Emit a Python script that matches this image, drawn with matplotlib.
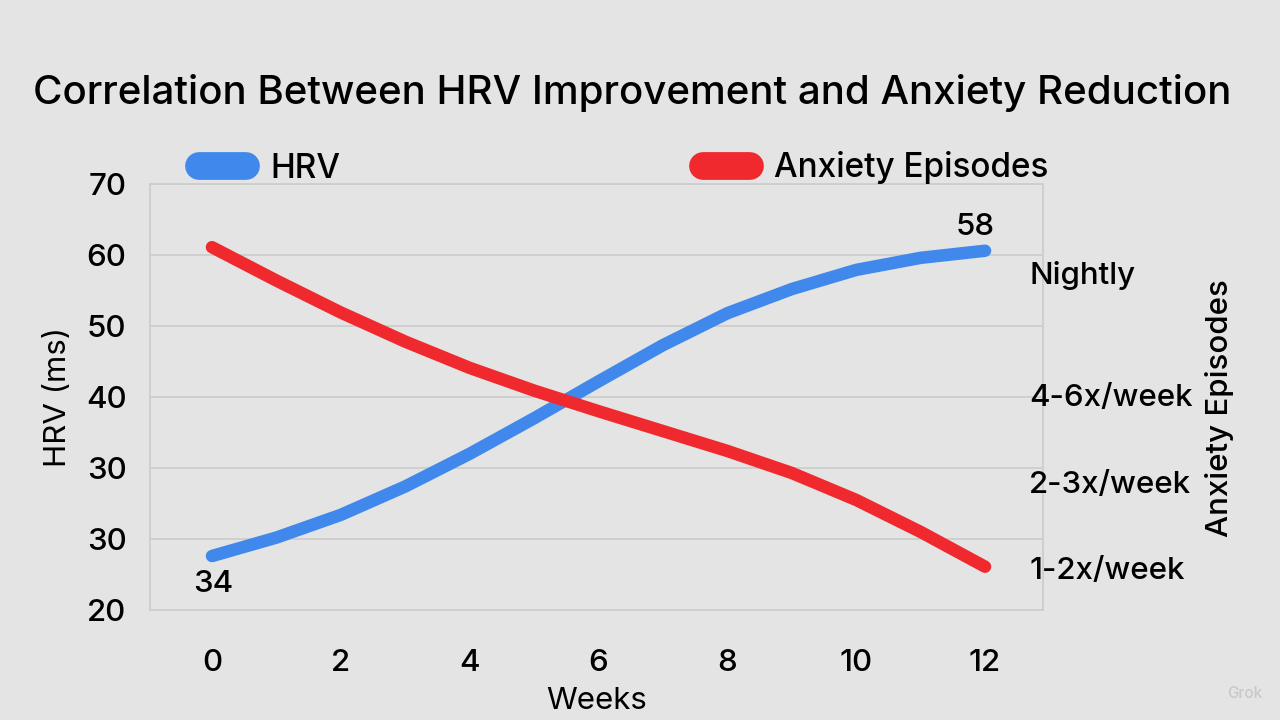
import numpy as np
import matplotlib
matplotlib.use("Agg")
import matplotlib.pyplot as plt
from matplotlib.lines import Line2D

plt.rcParams['font.family'] = ['Inter', 'DejaVu Sans']
plt.rcParams['font.weight'] = 'medium'

# Data
weeks = [0, 1, 2, 3, 4, 5, 6, 7, 8, 9, 10, 11, 12]
hrv = [17.6, 20.2, 23.4, 27.4, 32.0, 37.0, 42.2, 47.3, 51.8, 55.2, 57.9, 59.6, 60.6]
anxiety = [61.1, 56.4, 51.9, 47.8, 44.1, 40.9, 38.0, 35.2, 32.4, 29.3, 25.5, 21.0, 16.1]

y_ticks = [70, 60, 50, 40, 30, 20, 10]
y_tick_labels = ["70", "60", "50", "40", "30", "30", "20"]
x_ticks = [0, 2, 4, 6, 8, 10, 12]

anx_ticks = [57.6, 40.3, 28.0, 15.9]
anx_labels = ["Nightly", "4-6x/week", "2-3x/week", "1-2x/week"]

hrv_start_label = "34"
hrv_end_label = "58"

bg = '#e4e4e4'
blue = '#4088ec'
red = '#f0292e'
fs = 22.5

fig = plt.figure(figsize=(12.8, 7.2), dpi=100, facecolor=bg)
ax = fig.add_axes([150/1280, 1-610/720, 893/1280, 426/720])
ax.set_facecolor(bg)

ax.plot(weeks, hrv, color=blue, lw=9, solid_capstyle='round', solid_joinstyle='round', zorder=3)
ax.plot(weeks, anxiety, color=red, lw=9, solid_capstyle='round', solid_joinstyle='round', zorder=3)

ax.set_xlim(-0.962, 12.90)
ax.set_ylim(10, 70)
ax.set_yticks(y_ticks)
ax.set_yticklabels(y_tick_labels)
ax.set_xticks(x_ticks)
ax.tick_params(axis='both', length=0, labelsize=fs)
ax.tick_params(axis='y', pad=17)
ax.tick_params(axis='x', pad=28)
ax.grid(axis='y', color='#cdcdcd', lw=1.3)
ax.set_axisbelow(True)
for s in ax.spines.values():
    s.set_color('#cdcdcd')
    s.set_linewidth(1.3)

ax.set_xlabel("Weeks", fontsize=fs, labelpad=7)
ax.set_ylabel("HRV (ms)", fontsize=fs, labelpad=10)

# labels at ends of HRV line
ax.annotate(hrv_start_label, (weeks[0], hrv[0]), xytext=(1, -20), textcoords='offset points',
            ha='center', va='center', fontsize=fs)
ax.annotate(hrv_end_label, (weeks[-1], hrv[-1]), xytext=(-7, 17), textcoords='offset points',
            ha='center', va='center', fontsize=fs)

# right axis with anxiety categories
ax2 = ax.twinx()
ax2.set_ylim(ax.get_ylim())
ax2.set_yticks(anx_ticks)
ax2.set_yticklabels(anx_labels)
ax2.tick_params(axis='y', length=0, labelsize=fs, pad=-10)
for s in ax2.spines.values():
    s.set_visible(False)
fig.text(1220/1280, 1-408/720, "Anxiety Episodes", rotation=90, fontsize=fs,
         ha='center', va='center')

# legend
handles = [Line2D([], [], color=blue, lw=20, solid_capstyle='round'),
           Line2D([], [], color=red, lw=20, solid_capstyle='round')]
fig.legend(handles, ["HRV", "Anxiety Episodes"], ncol=2, frameon=False, fontsize=24,
           loc='center left', bbox_to_anchor=(199/1280, 1-168/720),
           handlelength=1.41, handletextpad=0.72, columnspacing=10.9,
           borderpad=0, borderaxespad=0)

fig.text(33/1280, 1-93/720, "Correlation Between HRV Improvement and Anxiety Reduction",
         fontsize=29, fontweight='medium', ha='left', va='center')

fig.text(1262/1280, 1-694/720, "Grok", fontsize=11, color='#c8c8c8', ha='right', va='center')

fig.savefig("out.png", dpi=100, facecolor=bg)
